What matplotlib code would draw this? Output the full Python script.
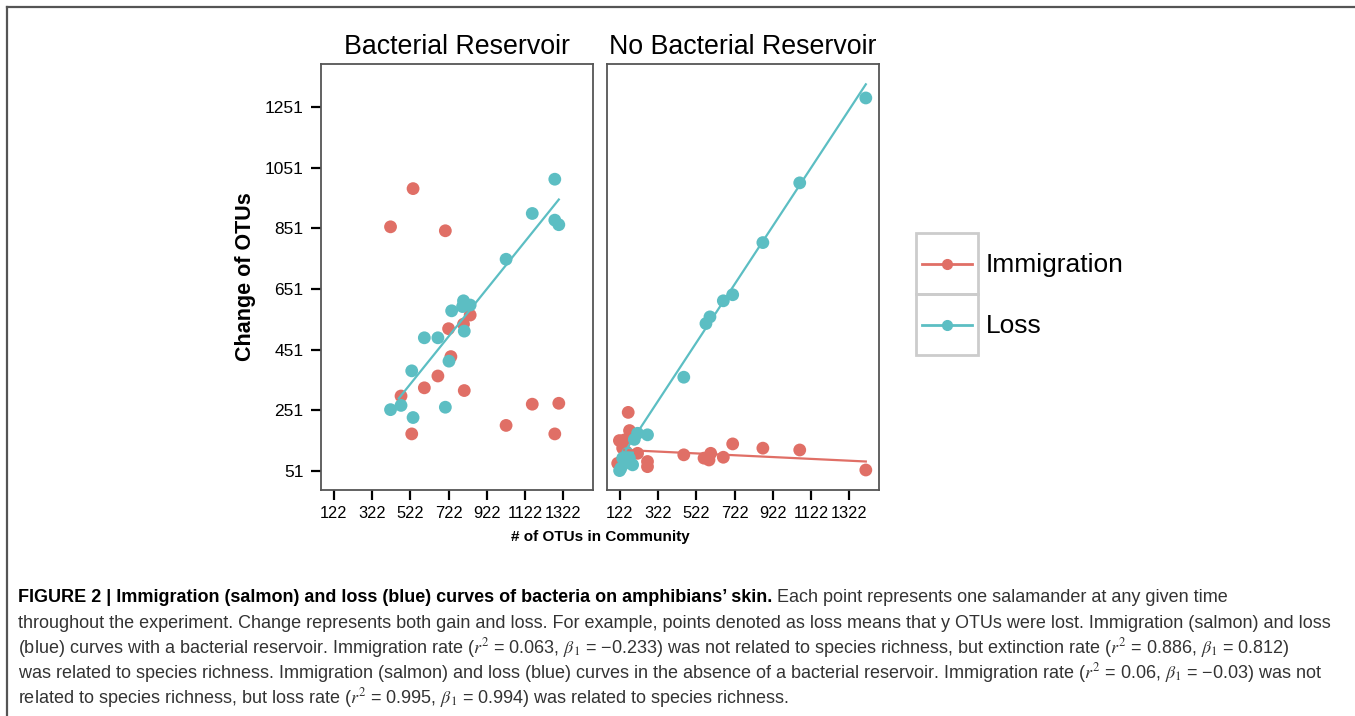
import numpy as np
import matplotlib.pyplot as plt
from matplotlib.patches import Rectangle
from matplotlib.lines import Line2D

plt.rcParams['font.family'] = ['Liberation Sans', 'DejaVu Sans']
plt.rcParams['mathtext.fontset'] = 'stix'

# ======================
# DATA
# ======================
# Bacterial reservoir
left_imm_x = [418, 536, 705, 473, 595, 666, 722, 734, 800, 835, 804, 529, 1023, 1160, 1278, 1299]
left_imm_y = [856, 982, 843, 298, 325, 364, 520, 428, 535, 565, 316, 173, 201, 271, 173, 274]
left_loss_x = [418, 473, 536, 529, 595, 666, 705, 724, 738, 800, 795, 835, 804, 1023, 1160, 1278, 1278, 1299]
left_loss_y = [253, 267, 227, 381, 490, 490, 261, 413, 579, 612, 593, 598, 512, 749, 900, 1013, 878, 863]
left_loss_fit_x = [461, 1299]
left_loss_fit_y = [290, 946]

# No bacterial reservoir
right_imm_x = [1409, 1063, 870, 712, 663, 597, 562, 588, 456, 266, 266, 214, 165, 172, 119, 145, 136, 110, 153]
right_imm_y = [54, 120, 126, 140, 96, 109, 93, 87, 104, 82, 65, 109, 244, 184, 151, 153, 126, 76, 115]
right_loss_x = [1409, 1063, 870, 712, 663, 593, 572, 456, 266, 214, 197, 127, 145, 171, 188, 136, 162, 120]
right_loss_y = [1281, 1001, 804, 632, 612, 559, 537, 360, 170, 175, 155, 60, 76, 93, 71, 93, 109, 52]
right_imm_fit_x = [145, 1409]
right_imm_fit_y = [120, 82]
right_loss_fit_x = [153, 1409]
right_loss_fit_y = [120, 1326]

xticks = [122, 322, 522, 722, 922, 1122, 1322]
yticks = [51, 251, 451, 651, 851, 1051, 1251]
titles = ["Bacterial Reservoir", "No Bacterial Reservoir"]
series_names = ["Immigration", "Loss"]

RED = '#E06F66'
BLUE = '#5CBEC3'

W, H = 1355, 716
fig = plt.figure(figsize=(W / 100, H / 100), dpi=100)


def px_axes(x0, y0, x1, y1):
    return fig.add_axes([x0 / W, 1 - y1 / H, (x1 - x0) / W, (y1 - y0) / H])


ax1 = px_axes(321, 64, 593, 490)
ax2 = px_axes(607, 64, 879, 490)

panels = [
    (ax1, left_imm_x, left_imm_y, left_loss_x, left_loss_y, [], [], left_loss_fit_x, left_loss_fit_y),
    (ax2, right_imm_x, right_imm_y, right_loss_x, right_loss_y,
     right_imm_fit_x, right_imm_fit_y, right_loss_fit_x, right_loss_fit_y),
]

for i, (ax, ix, iy, lx, ly, ifx, ify, lfx, lfy) in enumerate(panels):
    ax.scatter(ix, iy, s=85, color=RED, edgecolors='none', zorder=2)
    ax.scatter(lx, ly, s=85, color=BLUE, edgecolors='none', zorder=3)
    if ifx:
        ax.plot(ifx, ify, color=RED, lw=1.6, zorder=4)
    ax.plot(lfx, lfy, color=BLUE, lw=1.6, zorder=4)
    ax.set_xlim(54, 1478)
    ax.set_ylim(-12, 1393)
    ax.set_xticks(xticks)
    ax.set_xticklabels([str(v) for v in xticks], fontsize=11.8)
    ax.set_title(titles[i], fontsize=19.3, pad=7)
    for s in ax.spines.values():
        s.set_color('#555555')
        s.set_linewidth(1.3)
    ax.tick_params(axis='x', length=7.5, width=1.6, pad=4, color='black')
    if i == 0:
        ax.set_yticks(yticks)
        ax.set_yticklabels([str(v) for v in yticks], fontsize=12.5)
        ax.tick_params(axis='y', length=7.5, width=1.6, pad=5, color='black')
        ax.set_ylabel("Change of OTUs", fontsize=15.5, fontweight='bold', labelpad=6)
    else:
        ax.set_yticks([])

fig.text(600 / W, 1 - 537 / H, "# of OTUs in Community", fontsize=11, fontweight='bold',
         ha='center', va='center')

# ======================
# LEGEND
# ======================
lax = px_axes(916, 233, 978, 355)
lax.set_xlim(0, 1)
lax.set_ylim(0, 2)
lax.axis('off')
for k, (name, col) in enumerate(zip(series_names, [RED, BLUE])):
    yc = 1.5 - k
    lax.add_patch(Rectangle((0, yc - 0.5), 1, 1, fill=False, edgecolor='#cccccc', lw=2, clip_on=False))
    lax.plot([0.1, 0.9], [yc, yc], color=col, lw=2)
    lax.plot([0.5], [yc], 'o', color=col, ms=7)
    fig.text(986 / W, 1 - (265 + 61 * k) / H, name, fontsize=19, ha='left', va='center')

# ======================
# FRAME
# ======================
fig.add_artist(Line2D([7 / W, 7 / W], [0, 1 - 7 / H], color='#555555', lw=1.6))
fig.add_artist(Line2D([7 / W, 1], [1 - 7 / H, 1 - 7 / H], color='#555555', lw=1.6))

# ======================
# CAPTION
# ======================
cap_col = '#333333'
cap_fs = 13
y0 = 598
step = 25
t1 = fig.text(18 / W, 1 - y0 / H,
              "FIGURE 2 | Immigration (salmon) and loss (blue) curves of bacteria on amphibians\u2019 skin.",
              fontsize=cap_fs, fontweight='bold', color='black', va='center')
plt.annotate(" Each point represents one salamander at any given time", xy=(1, 0.5), xycoords=t1,
             va='center', ha='left', fontsize=cap_fs, color=cap_col, annotation_clip=False)

lines = [
    "throughout the experiment. Change represents both gain and loss. For example, points denoted as loss means that y OTUs were lost. Immigration (salmon) and loss",
    "(blue) curves with a bacterial reservoir. Immigration rate ($r^2$ = 0.063, $\\beta_1$ = \u22120.233) was not related to species richness, but extinction rate ($r^2$ = 0.886, $\\beta_1$ = 0.812)",
    "was related to species richness. Immigration (salmon) and loss (blue) curves in the absence of a bacterial reservoir. Immigration rate ($r^2$ = 0.06, $\\beta_1$ = \u22120.03) was not",
    "related to species richness, but loss rate ($r^2$ = 0.995, $\\beta_1$ = 0.994) was related to species richness.",
]
for k, line in enumerate(lines):
    fig.text(18 / W, 1 - (y0 + step * (k + 1)) / H, line, fontsize=cap_fs, color=cap_col, va='center')

fig.savefig("out.png", dpi=100)
